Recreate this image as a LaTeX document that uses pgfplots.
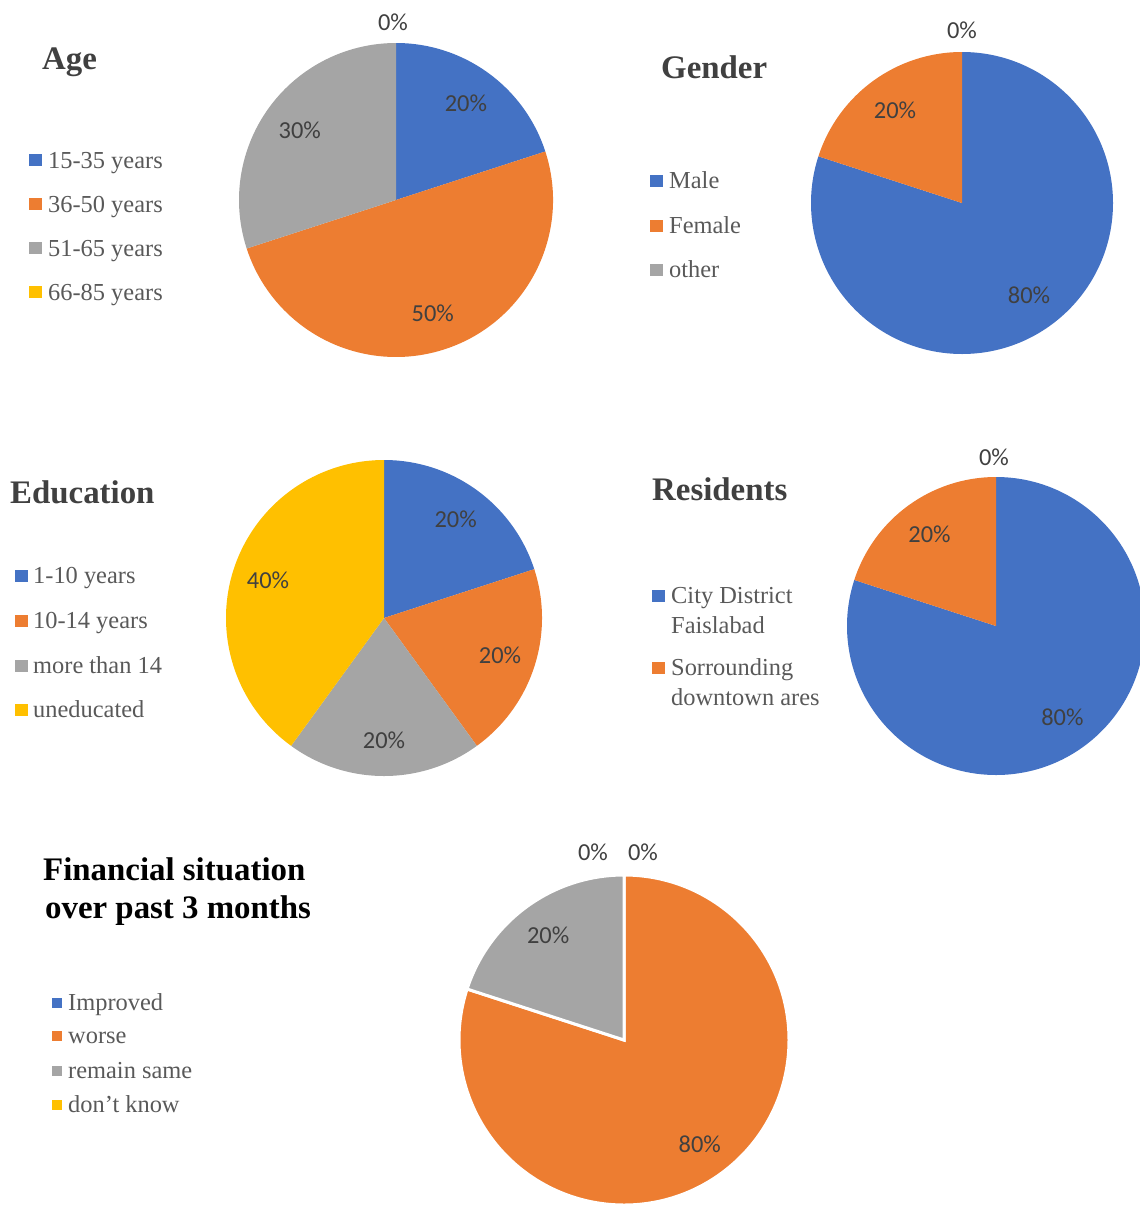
\documentclass[border=0pt]{standalone}
\usepackage{pgfplots}
\pgfplotsset{compat=1.18}
\usepackage{pgfplotstable}
\usepackage{fontspec}
\setmainfont{Liberation Serif}
\newfontfamily\pctfont{Carlito}

\definecolor{c0}{HTML}{4472C4}
\definecolor{c1}{HTML}{ED7D31}
\definecolor{c2}{HTML}{A5A5A5}
\definecolor{c3}{HTML}{FFC000}
\definecolor{legtext}{HTML}{595959}
\definecolor{titletext}{HTML}{404040}
\definecolor{pcttext}{HTML}{404040}

\tikzset{
  pct/.style={font=\pctfont\fontsize{24.5}{24.5}\selectfont, text=pcttext, inner sep=0pt},
  leg/.style={font=\fontsize{24.5}{28}\selectfont, text=legtext, inner sep=0pt, anchor=base west},
  ttl/.style={font=\bfseries\fontsize{33}{39}\selectfont, text=titletext, inner sep=0pt, anchor=base west},
}

% pie data (percent)
\pgfplotstableread{
cat value
15-35 20
36-50 50
51-65 30
66-85 0
}\agedata
\pgfplotstableread{
cat value
male 80
female 20
other 0
}\genderdata
\pgfplotstableread{
cat value
1-10 20
10-14 20
14+ 20
none 40
}\edudata
\pgfplotstableread{
cat value
city 80
surrounding 20
}\resdata
\pgfplotstableread{
cat value
improved 0
worse 80
same 20
dontknow 0
}\findata

% #1 table, #2 cx, #3 cy, #4 radius, #5 label radius, #6 wedge style
\newcommand{\drawpie}[6]{%
  \pgfplotstablegetrowsof{#1}%
  \pgfmathtruncatemacro\nrows{\pgfplotsretval-1}%
  \xdef\curang{90}%
  \foreach \i in {0,...,\nrows}{%
    \pgfplotstablegetelem{\i}{value}\of{#1}\let\v\pgfplotsretval
    \pgfmathsetmacro\endang{\curang-3.6*\v}%
    \pgfmathsetmacro\midang{(\curang+\endang)/2}%
    \ifdim\v pt>0pt
      \edef\temp{\noexpand\fill[c\i,#6] (axis cs:#2,#3) -- ++(\curang:#4bp)
        arc[start angle=\curang, end angle=\endang, radius=#4bp] -- cycle;}\temp
      \edef\temp{\noexpand\path (axis cs:#2,#3) ++(\midang:#5bp)
        node[pct] {\v\noexpand\%};}\temp
    \fi
    \xdef\curang{\endang}%
  }%
}

% #1 box left x, #2 box centre y, #3 size, #4 colour, #5 text x, #6 baseline y, #7 text
\newcommand{\legitem}[7]{%
  \node[fill=#4, minimum size=#3bp, inner sep=0pt, anchor=west] at (axis cs:#1,#2) {};
  \node[leg] at (axis cs:#5,#6) {#7};
}

\begin{document}
\begin{tikzpicture}
\begin{axis}[
  name=ax,
  hide axis,
  x=1bp, y=1bp,
  xmin=0, xmax=1140, ymin=0, ymax=1205,
  y dir=reverse,
  enlargelimits=false,
  clip=false,
]
\addplot[draw=none] coordinates {(0,0) (1140,1205)};

% ---------- Age
\drawpie{\agedata}{396}{200}{157}{119}{draw=none}
\node[pct] at (axis cs:393,22) {0\%};
\node[ttl] at (axis cs:42,69) {Age};
\legitem{29}{160}{12.5}{c0}{48}{168}{15-35 years}
\legitem{29}{204}{12.5}{c1}{48}{212}{36-50 years}
\legitem{29}{248}{12.5}{c2}{48}{256}{51-65 years}
\legitem{29}{292}{12.5}{c3}{48}{300}{66-85 years}

% ---------- Gender
\drawpie{\genderdata}{962}{203}{151}{114}{draw=none}
\node[pct] at (axis cs:962,30) {0\%};
\node[ttl] at (axis cs:661,78) {Gender};
\legitem{650}{181}{12.5}{c0}{669}{188}{Male}
\legitem{650}{226}{12.5}{c1}{669}{233}{Female}
\legitem{650}{270}{12.5}{c2}{669}{277}{other}

% ---------- Education
\drawpie{\edudata}{384}{618}{158}{122}{draw=none}
\node[ttl] at (axis cs:10,503) {Education};
\legitem{15}{576}{12.5}{c0}{33}{583}{1-10 years}
\legitem{15}{621}{12.5}{c1}{33}{628}{10-14 years}
\legitem{15}{666}{12.5}{c2}{33}{673}{more than 14}
\legitem{15}{710}{12.5}{c3}{33}{717}{uneducated}

% ---------- Residents
\drawpie{\resdata}{996}{626}{149}{113}{draw=none}
\node[pct] at (axis cs:994,457) {0\%};
\node[ttl] at (axis cs:652,500) {Residents};
\legitem{652}{596}{12.5}{c0}{671}{603}{City District}
\node[leg] at (axis cs:671,633) {Faislabad};
\legitem{652}{668}{12.5}{c1}{671}{675}{Sorrounding}
\node[leg] at (axis cs:671,705) {downtown ares};

% ---------- Financial situation
\drawpie{\findata}{624}{1040}{165}{129}{draw=white, line width=3bp}
\node[pct] at (axis cs:643,852) {0\%};
\node[pct] at (axis cs:593,852) {0\%};
\node[ttl, text=black] at (axis cs:43,880) {Financial situation};
\node[ttl, text=black] at (axis cs:45,918) {over past 3 months};
\legitem{52}{1003}{10}{c0}{68}{1010}{Improved}
\legitem{52}{1036}{10}{c1}{68}{1043}{worse}
\legitem{52}{1071}{10}{c2}{68}{1078}{remain same}
\legitem{52}{1105}{10}{c3}{68}{1112}{don’t know}
\end{axis}
\pgfresetboundingbox
\useasboundingbox (ax.south west) rectangle (ax.north east);
\end{tikzpicture}
\end{document}
